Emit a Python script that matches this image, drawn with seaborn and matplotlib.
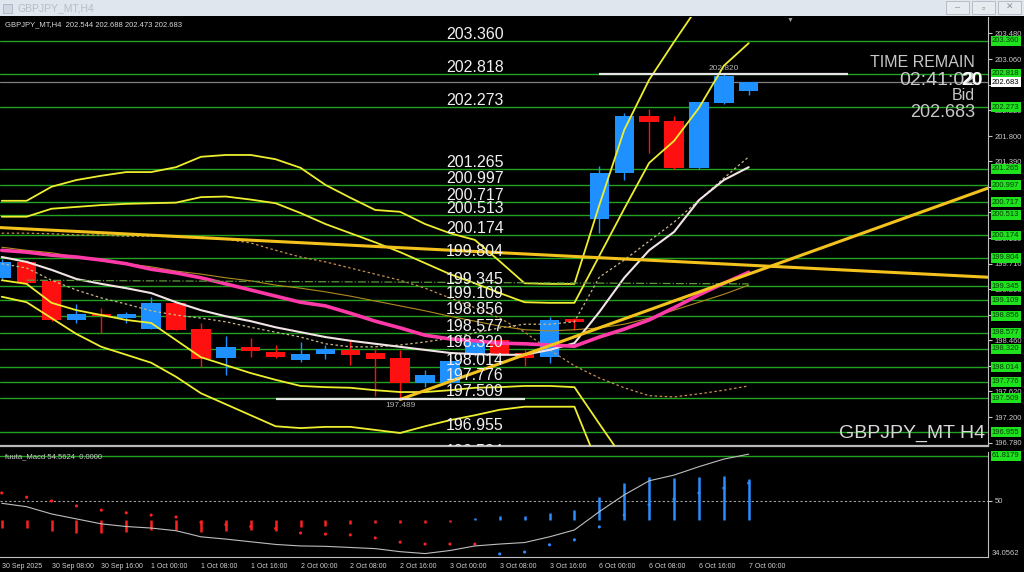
import numpy as np
import pandas as pd
import seaborn as sns
import matplotlib.pyplot as plt
from matplotlib.patches import Rectangle
from matplotlib.transforms import offset_copy, blended_transform_factory

# ---- H4 candles, 30 Sep 2025 00:00 .. 7 Oct 2025 00:00 ----
opens = [199.47, 199.745, 199.43, 198.79, 198.89, 198.83, 198.65, 199.06, 198.64, 198.16, 198.35,
         198.26, 198.14, 198.23, 198.30, 198.245, 198.16, 197.76, 197.76, 198.24, 198.46, 198.25,
         198.18, 198.80, 200.45, 201.20, 202.13, 202.05, 201.27, 202.335, 202.544]
highs = [199.78, 199.77, 199.45, 199.05, 198.98, 198.925, 199.16, 199.08, 198.735, 198.52, 198.50,
         198.38, 198.43, 198.38, 198.46, 198.33, 198.30, 197.97, 198.16, 198.50, 198.50, 198.30,
         198.84, 198.83, 201.31, 202.18, 202.24, 202.13, 202.36, 202.820, 202.688]
lows = [199.46, 199.38, 198.78, 198.745, 198.57, 198.735, 198.64, 198.62, 198.015, 197.89, 198.18,
        198.17, 198.10, 198.15, 198.05, 197.54, 197.489, 197.70, 197.72, 198.20, 198.22, 198.03,
        198.08, 198.63, 200.21, 201.08, 201.52, 201.26, 201.26, 202.32, 202.473]
closes = [199.745, 199.40, 198.79, 198.88, 198.85, 198.89, 199.06, 198.625, 198.15, 198.34, 198.28,
          198.18, 198.24, 198.31, 198.21, 198.15, 197.76, 197.89, 198.11, 198.46, 198.24, 198.17,
          198.79, 198.75, 201.20, 202.13, 202.03, 201.27, 202.35, 202.78, 202.683]

# ---- indicator lines (one value per candle) ----
band_up_outer = [200.74, 200.74, 200.97, 201.08, 201.15, 201.21, 201.21, 201.29, 201.46, 201.49, 201.49,
                 201.42, 201.28, 201.00, 200.79, 200.59, 200.56, 200.36, 200.21, 200.10, 199.75, 199.39,
                 199.38, 199.38, 200.67, 201.90, 202.72, 203.34, 203.94, 204.44, 204.84]
band_up_inner = [200.48, 200.48, 200.61, 200.64, 200.67, 200.69, 200.70, 200.71, 200.80, 200.81, 200.76,
                 200.70, 200.54, 200.36, 200.21, 200.06, 199.90, 199.72, 199.54, 199.39, 199.23, 199.08,
                 199.07, 199.07, 199.84, 200.61, 201.36, 201.72, 202.26, 202.95, 203.32]
band_lo_inner = [199.44, 199.38, 199.07, 198.95, 198.87, 198.79, 198.74, 198.46, 198.18, 198.05, 197.92,
                 197.81, 197.71, 197.69, 197.68, 197.64, 197.61, 197.61, 197.64, 197.68, 197.69, 197.71,
                 197.71, 197.69, 197.09, 196.50, 195.84, 195.35, 195.00, 194.70, 194.50]
band_lo_outer = [199.17, 199.08, 198.82, 198.56, 198.35, 198.22, 198.09, 197.86, 197.59, 197.41, 197.23,
                 197.05, 197.02, 197.04, 197.04, 196.99, 196.94, 197.05, 197.15, 197.23, 197.32, 197.37,
                 197.37, 197.37, 196.37, 195.40, 195.00, 194.70, 194.40, 194.20, 194.00]
ma_white = [199.82, 199.74, 199.61, 199.46, 199.38, 199.31, 199.23, 199.08, 198.95, 198.85, 198.77,
            198.67, 198.59, 198.51, 198.45, 198.40, 198.35, 198.30, 198.25, 198.23, 198.22, 198.22,
            198.30, 198.41, 198.92, 199.48, 199.93, 200.23, 200.75, 201.08, 201.29]
ma_magenta = [199.93, 199.90, 199.85, 199.82, 199.77, 199.71, 199.62, 199.56, 199.48, 199.38, 199.28,
              199.18, 199.08, 199.02, 198.90, 198.77, 198.66, 198.54, 198.48, 198.45, 198.41, 198.40,
              198.38, 198.36, 198.51, 198.64, 198.79, 198.99, 199.20, 199.39, 199.57]
ma_tan = [199.98, 199.93, 199.89, 199.82, 199.77, 199.71, 199.66, 199.59, 199.54, 199.48, 199.43,
          199.36, 199.31, 199.25, 199.18, 199.10, 199.02, 198.94, 198.85, 198.77, 198.69, 198.63,
          198.61, 198.63, 198.66, 198.72, 198.82, 198.95, 199.08, 199.21, 199.36]
dot_khaki = [199.71, 199.64, 199.44, 199.28, 199.15, 199.05, 198.94, 198.87, 198.82, 198.76, 198.67,
             198.59, 198.51, 198.40, 198.35, 198.35, 198.38, 198.43, 198.49, 198.58, 198.66, 198.72,
             198.72, 198.76, 199.49, 199.77, 200.08, 200.39, 200.75, 201.11, 201.46]
dot_orange = [200.21, 200.21, 200.20, 200.18, 200.18, 200.16, 200.16, 200.15, 200.15, 200.11, 200.05,
              199.93, 199.82, 199.74, 199.64, 199.54, 199.44, 199.31, 199.15, 198.99, 198.82, 198.59,
              198.30, 198.04, 197.84, 197.68, 197.55, 197.53, 197.58, 197.64, 197.71]
dashdot_x = [1, 30]
dashdot_y = [199.44, 199.38]

# trendlines: two anchor points (candle index, price)
trend_down = [(0, 200.30), (30, 199.686)]
trend_up = [(16, 197.489), (30, 199.54)]

# horizontal levels
levels = [203.360, 202.818, 202.273, 201.265, 200.997, 200.717, 200.513, 200.174, 199.804, 199.345,
          199.109, 198.856, 198.577, 198.320, 198.014, 197.776, 197.509, 196.955, 196.524]
price_ticks = [196.780, 197.200, 197.620, 198.040, 198.460, 198.870, 199.290, 199.710, 200.130,
               200.550, 200.970, 201.390, 201.800, 202.220, 202.640, 203.060, 203.480]
# tick labels fully covered by the level boxes in the terminal
covered_ticks = [198.040, 198.870, 200.550, 200.970, 202.640]
bid = 202.683

# high / low markers: (price, centre index, from index, to index)
hi_mark = (202.820, 29, 24, 34)
lo_mark = (197.489, 16, 11, 21)

# ---- MACD panel ----
macd_base = 44.9
macd_bar = [42.8, 42.8, 42.2, 41.5, 41.7, 41.9, 42.4, 42.4, 41.9, 42.2, 42.5, 42.2, 43.1, 43.4, 44.0,
            44.1, 44.1, 44.2, 44.5, 45.6, 46.1, 46.1, 46.9, 47.6, 51.1, 54.6, 56.4, 56.0, 56.4, 56.6, 55.7]
macd_dot = [52.1, 51.0, 50.0, 48.7, 47.6, 46.9, 46.3, 45.8, 44.4, 43.8, 43.3, 42.8, 41.6, 41.3, 41.1,
            40.3, 39.2, 38.7, 38.7, 38.7, 36.1, 36.6, 38.5, 39.8, 43.2, 46.3, 49.0, 50.5, 52.1, 53.4, 54.7]
macd_line = [49.4, 48.5, 46.6, 45.3, 44.0, 43.3, 42.9, 42.2, 40.6, 40.0, 39.3, 38.6, 38.2, 38.1, 37.8,
             37.5, 36.7, 36.2, 37.0, 38.2, 38.7, 39.1, 40.6, 42.4, 47.2, 51.6, 55.3, 56.8, 59.0, 61.0, 62.3]
macd_level = 61.8179

date_labels = ["30 Sep 2025", "30 Sep 08:00", "30 Sep 16:00", "1 Oct 00:00", "1 Oct 08:00",
               "1 Oct 16:00", "2 Oct 00:00", "2 Oct 08:00", "2 Oct 16:00", "3 Oct 00:00",
               "3 Oct 08:00", "3 Oct 16:00", "6 Oct 00:00", "6 Oct 08:00", "6 Oct 16:00", "7 Oct 00:00"]

sns.set_style("dark", rc={"axes.facecolor": "black", "figure.facecolor": "black",
                          "axes.edgecolor": "#c0c0c0", "axes.grid": False})
plt.rcParams['font.family'] = ['Liberation Sans', 'DejaVu Sans']

fig = plt.figure(figsize=(10.24, 5.72), dpi=100)
fig.patch.set_facecolor('black')
ax = fig.add_axes([0, 126 / 572, 988 / 1024, 429 / 572])
ax2 = fig.add_axes([0, 15 / 572, 988 / 1024, 105 / 572])

XMIN, XMAX = -0.07, 39.61
x = np.arange(len(opens))

# levels
for lv in levels:
    ax.axhline(lv, color='#21a321', lw=1.0, zorder=1)

# candles
up = np.array(closes) >= np.array(opens)
ccol = np.where(up, '#1e90ff', '#ff1010')
ax.vlines(x, lows, highs, colors=ccol, lw=1.0, zorder=3)
ax.bar(x, np.abs(np.array(closes) - np.array(opens)), bottom=np.minimum(opens, closes),
       width=0.78, color=ccol, edgecolor='none', zorder=3)

# indicator lines
lines = [
    (dot_orange, '#c89050', 0.9, (0, (2, 2))),
    (dot_khaki, '#c8b888', 0.9, (0, (2, 2))),
    (ma_tan, '#b08a20', 0.8, '-'),
    (band_up_outer, '#eeee30', 1.3, '-'),
    (band_up_inner, '#eeee30', 1.3, '-'),
    (band_lo_inner, '#eeee30', 1.3, '-'),
    (band_lo_outer, '#eeee30', 1.3, '-'),
    (ma_white, '#f2e4e4', 1.5, '-'),
    (ma_magenta, '#ff3aa8', 2.6, '-'),
]
for vals, col, lw, ls in lines:
    sns.lineplot(x=x, y=vals, ax=ax, color=col, lw=lw, linestyle=ls, legend=False, zorder=4)
sns.lineplot(x=dashdot_x, y=dashdot_y, ax=ax, color='#5c9c3c', lw=0.9, linestyle='-.',
             legend=False, zorder=4)

# trendlines (extended to the right edge)
for (x0, y0), (x1, y1) in (trend_down, trend_up):
    slope = (y1 - y0) / (x1 - x0)
    start = x0 if x0 > 0 else XMIN
    xs = np.array([start, XMAX])
    sns.lineplot(x=xs, y=y0 + slope * (xs - x0), ax=ax, color='#f4c21c', lw=2.2, legend=False, zorder=5)

# bid line
ax.axhline(bid, color='#808080', lw=0.9, zorder=2)

# high / low markers
for price, ci, a, b in (hi_mark, lo_mark):
    ax.hlines(price, a, b, color='#e6e6e6', lw=1.6, zorder=5)
ax.annotate(f"{hi_mark[0]:.3f}", (hi_mark[1], hi_mark[0]), xytext=(0, 1.5), textcoords='offset points',
            ha='center', va='bottom', fontsize=6, color='#b0b0b0', zorder=7)
ax.annotate(f"{lo_mark[0]:.3f}", (lo_mark[1], lo_mark[0]), xytext=(0, -1.5), textcoords='offset points',
            ha='center', va='top', fontsize=6, color='#b0b0b0', zorder=7)

# big level labels
tr = offset_copy(ax.transData, fig=fig, x=0, y=2, units='dots')
for lv in levels:
    ax.text(19, lv, f"{lv:.3f}", transform=tr, ha='center', va='baseline', fontsize=11.5,
            color='#f0f0f0', zorder=8, clip_on=True)

ax.set_xlim(XMIN, XMAX)
ax.set_ylim(196.727, 203.748)
ax.set_xticks([])
ax.yaxis.tick_right()
ax.set_yticks(price_ticks)
ax.set_yticklabels(['' if t in covered_ticks else f"{t:.3f}" for t in price_ticks])
ax.tick_params(axis='y', labelsize=5.5, colors='#c8c8c8', length=3, width=0.8, pad=1.5, direction='out')
for s in ('left', 'top'):
    ax.spines[s].set_visible(False)
ax.spines['right'].set_color('#c0c0c0')
ax.spines['bottom'].set_color('#b8b8b8')
ax.spines['bottom'].set_linewidth(1.6)
ax.set_xlabel('')
ax.set_ylabel('')

# right-hand price boxes
bt = blended_transform_factory(ax.transAxes, ax.transData)
for lv in levels:
    if lv > 196.727:
        ax.text(1.004, lv, f"{lv:.3f}", transform=bt, ha='left', va='center', fontsize=5.5,
                color='#0a3a0a', clip_on=False, zorder=10,
                bbox=dict(boxstyle='square,pad=0.18', fc='#1de21d', ec='none'))
ax.text(1.004, bid, f"{bid:.3f}", transform=bt, ha='left', va='center', fontsize=5.5, color='black',
        clip_on=False, zorder=10, bbox=dict(boxstyle='square,pad=0.18', fc='white', ec='none'))

# text overlays
ax.text(0.005, 0.982, "GBPJPY_MT,H4  202.544 202.688 202.473 202.683", transform=ax.transAxes,
        fontsize=5.5, color='#d8d8d8', va='center', ha='left', zorder=9)
ax.text(0.987, 0.893, "TIME REMAIN", transform=ax.transAxes, fontsize=11.5, color='#c8c8c8',
        ha='right', va='center', zorder=9)
ax.text(0.987, 0.853, "02:41:02", transform=ax.transAxes, fontsize=14, color='#c8c8c8',
        ha='right', va='center', zorder=9)
ax.text(0.973, 0.853, "20", transform=ax.transAxes, fontsize=14, color='white', fontweight='bold',
        ha='left', va='center', zorder=10, clip_on=True)
ax.text(0.987, 0.816, "Bid", transform=ax.transAxes, fontsize=11.5, color='#c8c8c8',
        ha='right', va='center', zorder=9)
ax.text(0.987, 0.778, "202.683", transform=ax.transAxes, fontsize=13, color='#c8c8c8',
        ha='right', va='center', zorder=9)
ax.text(0.997, 0.03, "GBPJPY_MT H4", transform=ax.transAxes, fontsize=14, color='#d8d8d8',
        ha='right', va='center', zorder=9)

# ---- MACD ----
bcol = ['#ff2020' if v < macd_base else '#2a8cff' for v in macd_bar]
ax2.vlines(x, macd_base, macd_bar, colors=bcol, lw=1.8, zorder=3)
dcol = ['#ff2020'] * 20 + ['#2a8cff'] * (len(macd_dot) - 20)
sns.scatterplot(x=x, y=macd_dot, ax=ax2, color=dcol, s=5, edgecolor='none', legend=False, zorder=4)
sns.lineplot(x=x, y=macd_line, ax=ax2, color='#bdbdbd', lw=0.8, legend=False, zorder=4)
ax2.axhline(50, color='#a0a0a0', lw=0.8, linestyle=(0, (2, 2)), zorder=1)
ax2.axhline(macd_level, color='#21a321', lw=1.0, zorder=1)
ax2.set_xlim(XMIN, XMAX)
ax2.set_ylim(35.30, 62.86)
ax2.yaxis.tick_right()
ax2.set_yticks([50])
ax2.set_yticklabels(['50'])
ax2.tick_params(axis='y', labelsize=5.5, colors='#c8c8c8', length=3, width=0.8, pad=1.5)
ax2.set_xticks(x[::2])
ax2.set_xticklabels(date_labels)
ax2.tick_params(axis='x', labelsize=5, colors='#d0d0d0', length=3, width=0.8, pad=1.5, direction='out')
for lbl in ax2.get_xticklabels():
    lbl.set_ha('left')
for s in ('left', 'top'):
    ax2.spines[s].set_visible(False)
ax2.spines['right'].set_color('#c0c0c0')
ax2.spines['bottom'].set_color('#c0c0c0')
ax2.set_xlabel('')
ax2.set_ylabel('')
bt2 = blended_transform_factory(ax2.transAxes, ax2.transData)
ax2.text(1.004, macd_level, f"{macd_level:.4f}", transform=bt2, ha='left', va='center', fontsize=5.5,
         color='#0a3a0a', clip_on=False, zorder=10,
         bbox=dict(boxstyle='square,pad=0.18', fc='#1de21d', ec='none'))
ax2.text(1.004, 0.03, "34.0562", transform=ax2.transAxes, ha='left', va='center', fontsize=5.5,
         color='#c8c8c8', clip_on=False)
ax2.text(0.005, 0.95, "fuuta_Macd 54.5624  0.0000", transform=ax2.transAxes, fontsize=5.5,
         color='#c8c8c8', ha='left', va='center')

# ---- window chrome ----
fig.patches.append(Rectangle((0, 556 / 572), 1, 16 / 572, transform=fig.transFigure,
                             fc='#dfe6ee', ec='none', zorder=0))
fig.patches.append(Rectangle((3 / 1024, 559 / 572), 9 / 1024, 9 / 572, transform=fig.transFigure,
                             fc='#cfd8e2', ec='#a8b4c0', lw=0.6))
fig.text(17 / 1024, 564 / 572, "GBPJPY_MT,H4", fontsize=7.5, color='#b4bec9', va='center', ha='left')
for bx, sym in ((946, '–'), (972, '▫'), (998, '✕')):
    fig.patches.append(Rectangle((bx / 1024, 558 / 572), 23 / 1024, 13 / 572, transform=fig.transFigure,
                                 fc='#e6ebf0', ec='#b0b8c0', lw=0.6))
    fig.text((bx + 11.5) / 1024, 564.5 / 572, sym, fontsize=6.5, color='#8a929a', ha='center', va='center')
fig.text(790 / 1024, 552 / 572, '▼', fontsize=5, color='#9a9a9a', ha='center', va='center')

fig.savefig("out.png", dpi=100, facecolor='black')
